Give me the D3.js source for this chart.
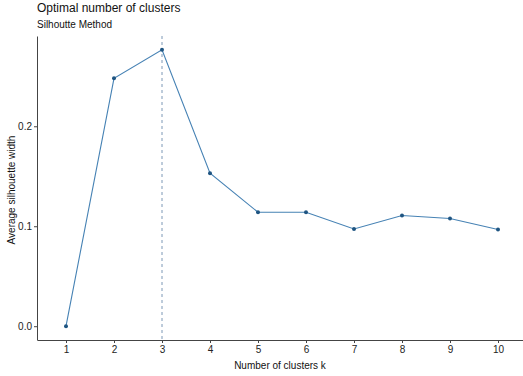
<!DOCTYPE html>
<html><head><meta charset="utf-8">
<script src="https://cdn.jsdelivr.net/npm/d3@7"></script>
<style>body{margin:0;background:#fff}svg{display:block;font-family:"Liberation Sans",Arial,sans-serif}</style>
</head><body><svg id="c" width="523" height="376"></svg>
<script>
const clusters = [1,2,3,4,5,6,7,8,9,10];
const silhouette = [0.0,0.248,0.2765,0.153,0.114,0.114,0.0973,0.1107,0.1077,0.0967];
const yTicks = [0.0,0.1,0.2];
const optimalK = 3;

const svg = d3.select("#c");
const x = d3.scaleLinear().domain([0.4,10.6]).range([37.2,526.8]);
const y = d3.scaleLinear().domain([-0.0138,0.2903]).range([340,36]);

// dashed optimal line
svg.append("line").attr("x1",x(optimalK)).attr("x2",x(optimalK))
  .attr("y1",y.range()[1]).attr("y2",y.range()[0])
  .attr("stroke","#5b7fa3").attr("stroke-width",0.8).attr("stroke-dasharray","3,3");

svg.append("path").datum(clusters.map((k,i)=>[k,silhouette[i]]))
  .attr("fill","none").attr("stroke","#4682B4").attr("stroke-width",1.1)
  .attr("d",d3.line().x(d=>x(d[0])).y(d=>y(d[1])));

svg.selectAll("circle.p").data(clusters).enter().append("circle")
  .attr("cx",d=>x(d)).attr("cy",(d,i)=>y(silhouette[i])).attr("r",2)
  .attr("fill","#1f5582");

// axes
const xa = svg.append("g").attr("transform","translate(0,340)")
  .call(d3.axisBottom(x).tickValues(clusters).tickFormat(d3.format("d")).tickSize(3).tickSizeOuter(0).tickPadding(3));
const ya = svg.append("g").attr("transform","translate(37,0)")
  .call(d3.axisLeft(y).tickValues(yTicks).tickFormat(d3.format(".1f")).tickSize(3).tickSizeOuter(0).tickPadding(2));
[xa,ya].forEach(a=>{
  a.select(".domain").attr("stroke","#444").attr("stroke-width",1);
  a.selectAll(".tick line").attr("stroke","#444");
  a.selectAll("text").attr("fill","#222").attr("font-size",10).attr("font-family","Liberation Sans, Arial, sans-serif");
});

svg.append("text").attr("x",37).attr("y",12).attr("font-size",12).attr("fill","#111").text("Optimal number of clusters");
svg.append("text").attr("x",37).attr("y",28).attr("font-size",10).attr("fill","#111").text("Silhoutte Method");
svg.append("text").attr("x",280).attr("y",369).attr("text-anchor","middle").attr("font-size",10).attr("fill","#111").text("Number of clusters k");
svg.append("text").attr("transform","translate(15,190) rotate(-90)").attr("text-anchor","middle").attr("font-size",10).attr("fill","#111").text("Average silhouette width");
</script></body></html>
